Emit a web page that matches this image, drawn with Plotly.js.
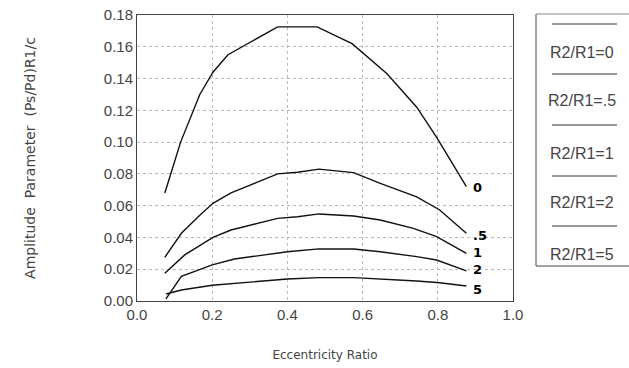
<!DOCTYPE html>
<html><head><meta charset="utf-8">
<script src="https://cdn.plot.ly/plotly-3.0.1.min.js"></script>
<style>html,body{margin:0;padding:0;background:#fff}#chart{width:629px;height:368px}</style>
</head><body><div id="chart"></div>
<script>
// Series: R2/R1 = 0
const x0 = [0.074, 0.116, 0.167, 0.202, 0.242, 0.374, 0.479, 0.572, 0.665, 0.744, 0.797, 0.876];
const y0 = [0.068, 0.100, 0.130, 0.144, 0.155, 0.1725, 0.1725, 0.162, 0.143, 0.122, 0.103, 0.072];
// R2/R1 = .5
const x05 = [0.074, 0.118, 0.167, 0.202, 0.250, 0.374, 0.427, 0.484, 0.576, 0.647, 0.744, 0.805, 0.876];
const y05 = [0.0275, 0.0426, 0.054, 0.0615, 0.068, 0.080, 0.081, 0.083, 0.0808, 0.074, 0.0656, 0.0573, 0.0426];
// R2/R1 = 1
const x1 = [0.074, 0.127, 0.202, 0.250, 0.374, 0.427, 0.484, 0.576, 0.647, 0.735, 0.797, 0.876];
const y1 = [0.0174, 0.029, 0.040, 0.0447, 0.052, 0.053, 0.0548, 0.0535, 0.051, 0.0457, 0.0405, 0.030];
// R2/R1 = 2
const x2 = [0.077, 0.118, 0.200, 0.259, 0.400, 0.484, 0.576, 0.647, 0.744, 0.797, 0.876];
const y2 = [0.0013, 0.0155, 0.0227, 0.0264, 0.031, 0.0328, 0.0327, 0.031, 0.0279, 0.0258, 0.019];
// R2/R1 = 5
const x5 = [0.077, 0.118, 0.200, 0.400, 0.484, 0.576, 0.744, 0.805, 0.876];
const y5 = [0.0044, 0.0069, 0.0099, 0.0138, 0.0147, 0.0147, 0.0126, 0.0115, 0.0094];

const seriesNames = ["R2/R1=0", "R2/R1=.5", "R2/R1=1", "R2/R1=2", "R2/R1=5"];
const curveLabels = ["0", ".5", "1", "2", "5"];
const xTickVals = [0.0, 0.2, 0.4, 0.6, 0.8, 1.0];
const yTickVals = [0.00, 0.02, 0.04, 0.06, 0.08, 0.10, 0.12, 0.14, 0.16, 0.18];

const xs = [x0, x05, x1, x2, x5];
const ys = [y0, y05, y1, y2, y5];
const labelShift = [-1, -2, 1, 1, -3];
const labelFont = {family: "DejaVu Sans", size: 13, color: "#000", weight: "bold"};
const txtColor = "#444";

const traces = xs.map((x, i) => ({
  x: x, y: ys[i], type: "scatter", mode: "lines", name: seriesNames[i],
  line: {color: "#111", width: 1.4}, showlegend: false, hoverinfo: "skip"
}));

const annotations = [];
xs.forEach((x, i) => {
  const n = x.length;
  annotations.push({
    x: x[n - 1], y: ys[i][n - 1], xref: "x", yref: "y", text: curveLabels[i],
    showarrow: false, xanchor: "left", xshift: 5, yshift: labelShift[i], font: labelFont
  });
});

// legend drawn manually (line sample above text), placed to the right of plot
const plotL = 137, plotW = 376, plotT = 15, plotH = 286;
const px = v => (v - plotL) / plotW;
const py = v => 1 - (v - plotT) / plotH;
const shapes = [
  {type: "line", xref: "paper", yref: "paper", x0: px(536), x1: px(536), y0: py(14), y1: py(266), line: {color: "#444", width: 1}},
  {type: "line", xref: "paper", yref: "paper", x0: px(536), x1: px(660), y0: py(14), y1: py(14), line: {color: "#888", width: 1}},
  {type: "line", xref: "paper", yref: "paper", x0: px(536), x1: px(660), y0: py(266), y1: py(266), line: {color: "#444", width: 1}}
];
const legLineY = [24, 74, 125, 176, 226];
const legTextY = [52, 101, 153, 202, 254];
seriesNames.forEach((nm, i) => {
  shapes.push({type: "line", xref: "paper", yref: "paper", x0: px(552), x1: px(617),
    y0: py(legLineY[i]), y1: py(legLineY[i]), line: {color: "#333", width: 1}});
  annotations.push({x: px(582), y: py(legTextY[i]), xref: "paper", yref: "paper", text: nm,
    showarrow: false, xanchor: "center", yanchor: "middle", font: {family: "Liberation Sans", size: 16, color: txtColor}});
});

const layout = {
  width: 629, height: 368,
  margin: {l: 137, r: 116, t: 15, b: 67},
  paper_bgcolor: "#fff", plot_bgcolor: "#fff",
  font: {family: "Liberation Sans", size: 13, color: txtColor},
  xaxis: {
    range: [0, 1], tickvals: xTickVals, tickformat: ".1f",
    showgrid: true, gridcolor: "#bbb", griddash: "dot", gridwidth: 1,
    showline: true, mirror: true, linecolor: "#444", linewidth: 1,
    ticks: "", zeroline: false, tickfont: {family: "Liberation Sans", size: 15, color: txtColor},
    title: {text: "Eccentricity Ratio", standoff: 28, font: {family: "DejaVu Sans", size: 12, color: txtColor}}
  },
  yaxis: {
    range: [0, 0.18], tickvals: yTickVals, tickformat: ".2f",
    showgrid: true, gridcolor: "#bbb", griddash: "dot", gridwidth: 1,
    showline: true, mirror: true, linecolor: "#444", linewidth: 1,
    ticks: "", zeroline: false, tickfont: {family: "Liberation Sans", size: 15, color: txtColor},
    title: {text: "Amplitude  Parameter  (Ps/Pd)R1/c", standoff: 64, font: {family: "DejaVu Sans", size: 14, color: txtColor}}
  },
  shapes: shapes,
  annotations: annotations,
  showlegend: false
};
Plotly.newPlot("chart", traces, layout, {staticPlot: true, displayModeBar: false});
</script></body></html>
